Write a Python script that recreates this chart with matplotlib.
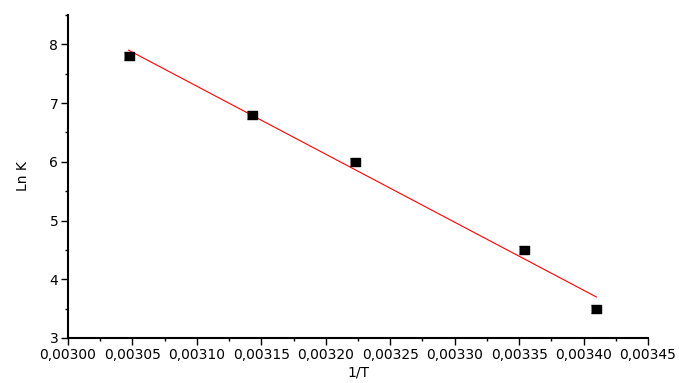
import numpy as np
import matplotlib.pyplot as plt
from matplotlib.ticker import MultipleLocator, FuncFormatter

# 1/T values and Ln K
inv_t = [0.003047, 0.003143, 0.003223, 0.003354, 0.003410]
ln_k = [7.8, 6.8, 6.0, 4.5, 3.5]

plt.rcParams['font.family'] = 'DejaVu Sans'

fig = plt.figure(figsize=(6.79, 3.83), dpi=100)
ax = fig.add_axes([0.1001, 0.1175, 0.8542, 0.8433])

# linear fit
a, b = np.polyfit(inv_t, ln_k, 1)
xf = np.array([min(inv_t), max(inv_t)])
ax.plot(xf, a * xf + b, color='red', linewidth=0.8)

rect = [(-1.0, -0.7), (1.0, -0.7), (1.0, 0.7), (-1.0, 0.7)]
ax.plot(inv_t, ln_k, linestyle='none', marker=rect, markersize=7.5,
        color='black')

ax.set_xlim(0.003, 0.00345)
ax.set_ylim(3, 8.5)
ax.xaxis.set_major_locator(MultipleLocator(0.00005))
ax.xaxis.set_minor_locator(MultipleLocator(0.000025))
ax.yaxis.set_major_locator(MultipleLocator(1))
ax.yaxis.set_minor_locator(MultipleLocator(0.5))
ax.xaxis.set_major_formatter(FuncFormatter(lambda v, p: f'{v:.5f}'.replace('.', ',')))
ax.yaxis.set_major_formatter(FuncFormatter(lambda v, p: f'{v:.0f}'))

for s in ['top', 'right']:
    ax.spines[s].set_visible(False)
for s in ['left', 'bottom']:
    ax.spines[s].set_linewidth(1.5)

ax.tick_params(which='major', direction='out', length=5, width=1, labelsize=10, pad=2)
ax.tick_params(which='minor', direction='out', length=2.5, width=1)

ax.set_xlabel('1/T', fontsize=10, labelpad=3)
ax.set_ylabel('Ln K', fontsize=10, labelpad=14)

plt.savefig('out.png', dpi=100)
